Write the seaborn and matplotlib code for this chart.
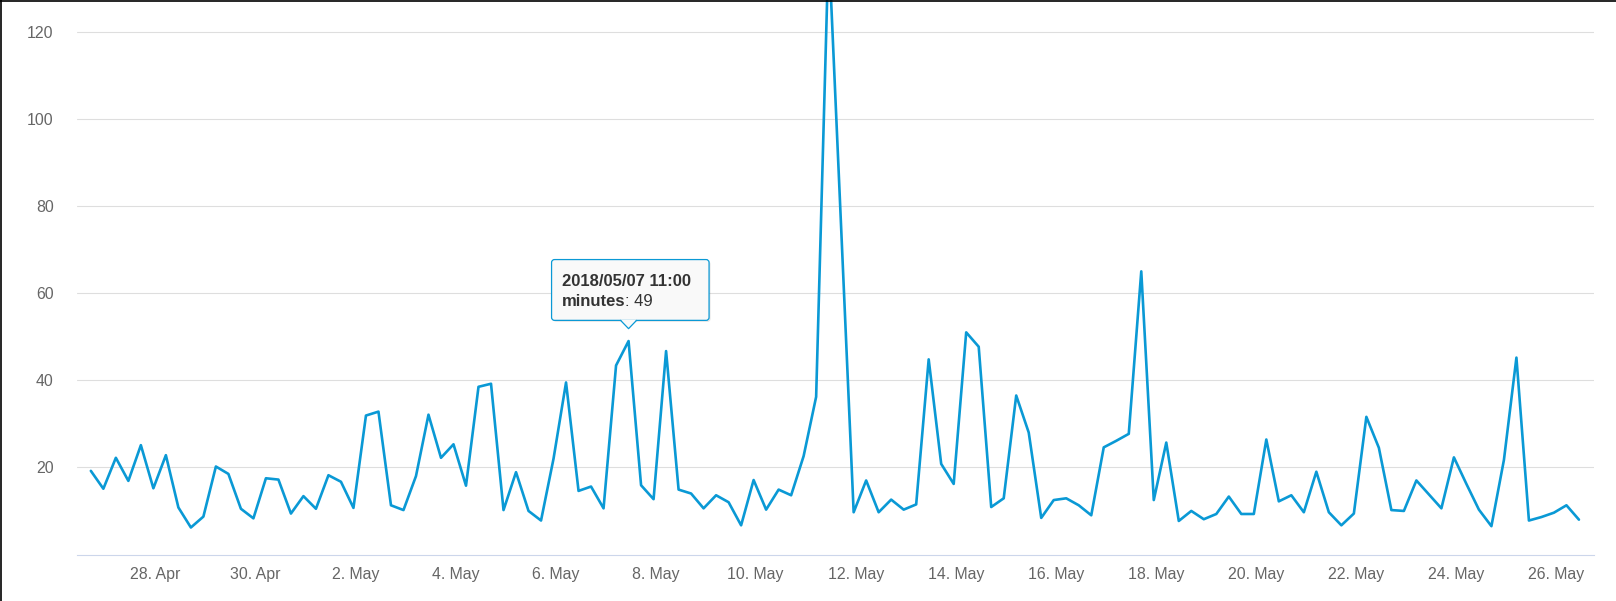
import pandas as pd
import matplotlib
matplotlib.use("Agg")
import matplotlib.pyplot as plt
import matplotlib.transforms as mtransforms
from matplotlib.patches import FancyBboxPatch, Polygon
from matplotlib.lines import Line2D
import seaborn as sns

# minutes per 6-hour slot (26 Apr 17:00 -> 26 May 11:00)
minutes = [19.2, 15.1, 22.2, 16.9, 25.1, 15.2, 22.8, 10.8, 6.2, 8.7,
           20.2, 18.5, 10.5, 8.3, 17.5, 17.2, 9.4, 13.4, 10.5, 18.2,
           16.7, 10.7, 31.9, 32.8, 11.3, 10.2, 18.0, 32.1, 22.2, 25.3,
           15.8, 38.5, 39.2, 10.2, 18.9, 10.0, 7.8, 22.0, 39.5, 14.6,
           15.6, 10.6, 43.4, 49.0, 15.9, 12.7, 46.7, 14.9, 14.0, 10.6,
           13.6, 12.0, 6.7, 17.1, 10.3, 14.9, 13.6, 22.6, 36.2, 140.0,
           75.0, 9.7, 17.0, 9.7, 12.6, 10.3, 11.5, 44.8, 20.8, 16.2,
           51.0, 47.7, 10.9, 12.9, 36.5, 28.0, 8.4, 12.5, 12.9, 11.3,
           9.0, 24.6, 26.1, 27.7, 65.0, 12.5, 25.7, 7.7, 10.0, 8.1,
           9.3, 13.3, 9.3, 9.3, 26.4, 12.2, 13.6, 9.7, 19.0, 9.7,
           6.7, 9.4, 31.6, 24.5, 10.2, 10.0, 17.0, 13.8, 10.6, 22.3,
           16.2, 10.3, 6.5, 21.7, 45.2, 7.8, 8.6, 9.6, 11.3, 8.0]
start_time = "2018-04-26 17:00"
series_name = "minutes"
hover_index = 43

# x-axis ticks every second day
tick_dates = ["2018-04-28", "2018-04-30", "2018-05-02", "2018-05-04", "2018-05-06",
              "2018-05-08", "2018-05-10", "2018-05-12", "2018-05-14", "2018-05-16",
              "2018-05-18", "2018-05-20", "2018-05-22", "2018-05-24", "2018-05-26"]
tick_labels = ["28. Apr", "30. Apr", "2. May", "4. May", "6. May", "8. May", "10. May",
               "12. May", "14. May", "16. May", "18. May", "20. May", "22. May",
               "24. May", "26. May"]
y_ticks = [20, 40, 60, 80, 100, 120]

times = pd.date_range(start_time, periods=len(minutes), freq="6h")
df = pd.DataFrame({"time": times, "minutes": minutes})

sns.set_style("white")
plt.rcParams["font.family"] = ["Liberation Sans", "DejaVu Sans"]

line_color = "#0a99d5"
label_color = "#666666"

fig = plt.figure(figsize=(16.16, 6.01), dpi=100)
ax = fig.add_axes([77.3 / 1616, 1 - 554.5 / 601, (1594.3 - 77.3) / 1616, 554.5 / 601])

sns.lineplot(data=df, x="time", y="minutes", ax=ax, color=line_color, linewidth=1.9)

ax.set_xlim(pd.Timestamp("2018-04-26 10:30"), pd.Timestamp("2018-05-26 18:22"))
ax.set_ylim(0, 127.3)
ax.set_xlabel("")
ax.set_ylabel("")

ax.set_yticks(y_ticks)
ax.set_yticklabels([str(v) for v in y_ticks])
ax.set_xticks(pd.to_datetime(tick_dates))
ax.set_xticklabels(tick_labels)

ax.yaxis.grid(True, color="#dedede", linewidth=0.8)
ax.xaxis.grid(False)
ax.set_axisbelow(True)
for side in ["top", "left", "right"]:
    ax.spines[side].set_visible(False)
ax.spines["bottom"].set_color("#ccd6eb")
ax.spines["bottom"].set_linewidth(0.8)

ax.tick_params(axis="y", length=0, pad=17, labelsize=11.4, labelcolor=label_color)
ax.tick_params(axis="x", length=7.4, width=0.8, color="#ccd6eb", pad=1.5,
               labelsize=11.4, labelcolor=label_color)

# tooltip at the hovered point
ident = mtransforms.IdentityTransform()
px, py = ax.transData.transform((matplotlib.dates.date2num(times[hover_index]),
                                 minutes[hover_index]))
bx0, bx1 = px - 77, px + 80.5
by0, by1 = py + 20.7, py + 81.5

shadow = FancyBboxPatch((bx0 + 1.5, by0 - 1.5), bx1 - bx0, by1 - by0,
                        boxstyle="round,pad=0,rounding_size=3",
                        facecolor="#000000", alpha=0.10, edgecolor="none",
                        transform=ident, zorder=10)
fig.add_artist(shadow)
box = FancyBboxPatch((bx0, by0), bx1 - bx0, by1 - by0,
                     boxstyle="round,pad=0,rounding_size=3",
                     facecolor="#f9f9f9", edgecolor=line_color, linewidth=0.9,
                     transform=ident, zorder=11)
fig.add_artist(box)
notch = Polygon([(px - 8, by0 + 0.8), (px, py + 12.4), (px + 8, by0 + 0.8)],
                closed=True, facecolor="#f9f9f9", edgecolor="none",
                transform=ident, zorder=12)
fig.add_artist(notch)
fig.add_artist(Line2D([px - 8, px, px + 8], [by0, py + 12.4, by0], color=line_color,
                      linewidth=0.9, transform=ident, zorder=13))

title_txt = times[hover_index].strftime("%Y/%m/%d %H:%M")
fig.text(px - 67, py + 59.8, title_txt, transform=ident, fontsize=12,
         fontweight="bold", color="#333333", va="center", ha="left", zorder=14)
name_txt = fig.text(px - 67, py + 39.2, series_name, transform=ident, fontsize=12,
                    fontweight="bold", color="#333333", va="center", ha="left", zorder=14)
renderer = fig.canvas.get_renderer()
w = name_txt.get_window_extent(renderer).width
fig.text(px - 67 + w, py + 39.2, ": %d" % round(minutes[hover_index]), transform=ident,
         fontsize=12, color="#333333", va="center", ha="left", zorder=14)

# screenshot edge
fig.add_artist(Line2D([0, 1], [0.999, 0.999], color="black", linewidth=1.2,
                      transform=fig.transFigure))
fig.add_artist(Line2D([0.0004, 0.0004], [0, 1], color="black", linewidth=1.2,
                      transform=fig.transFigure))

fig.savefig("out.png", dpi=100)
